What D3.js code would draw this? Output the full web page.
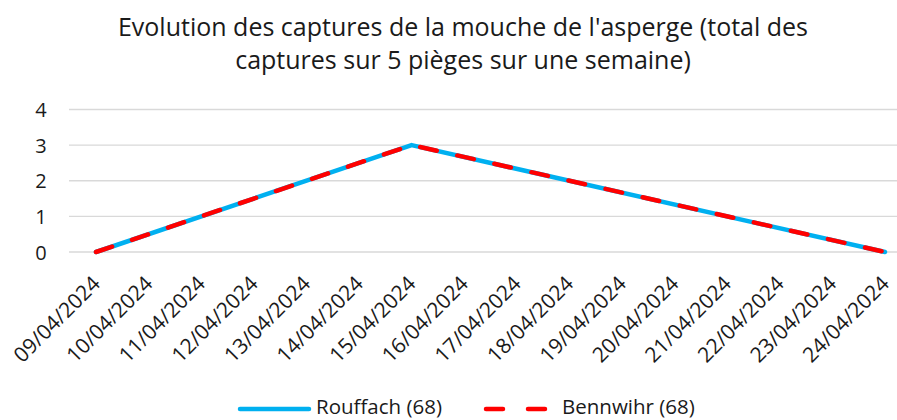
<!DOCTYPE html>
<html>
<head>
<meta charset="utf-8">
<script src="https://cdn.jsdelivr.net/npm/d3@7"></script>
<style>
  body { margin: 0; background: #fff; }
  text { font-family: "Open Sans", "Noto Sans", sans-serif; fill: #1a1a1a; }
</style>
</head>
<body>
<svg id="chart" width="897" height="420"></svg>
<script>
// categories (every day on the date axis)
var dates = ["09/04/2024","10/04/2024","11/04/2024","12/04/2024","13/04/2024","14/04/2024",
             "15/04/2024","16/04/2024","17/04/2024","18/04/2024","19/04/2024","20/04/2024",
             "21/04/2024","22/04/2024","23/04/2024","24/04/2024"];
// actual trap readings (line joins them straight)
var rouffachDates = ["09/04/2024","15/04/2024","24/04/2024"];
var rouffachValues = [0, 3, 0];
var bennwihrDates = ["09/04/2024","15/04/2024","24/04/2024"];
var bennwihrValues = [0, 3, 0];
var yTicks = [0, 1, 2, 3, 4];

var svg = d3.select("#chart");

var x = d3.scalePoint().domain(dates).range([96, 885]);
var y = d3.scaleLinear().domain([0, 4]).range([252, 109.5]);

// title
var title = svg.append("text")
	.attr("x", 463)
	.attr("y", 36)
	.attr("text-anchor", "middle")
	.style("font-size", "25px");
title.append("tspan").attr("x", 463).attr("dy", 0)
	.text("Evolution des captures de la mouche de l'asperge (total des");
title.append("tspan").attr("x", 463).attr("dy", 33)
	.text("captures sur 5 pièges sur une semaine)");

// gridlines
svg.append("g").selectAll("line")
	.data(yTicks)
	.enter().append("line")
	.attr("x1", 69).attr("x2", 897)
	.attr("y1", function(d){ return y(d); })
	.attr("y2", function(d){ return y(d); })
	.attr("stroke", "#d9d9d9")
	.attr("stroke-width", 1.3);

// y axis labels
var yAxis = d3.axisLeft(y).tickValues(yTicks).tickFormat(d3.format("d")).tickSize(0).tickPadding(0);
var gy = svg.append("g").attr("transform", "translate(41,0)").call(yAxis);
gy.select(".domain").remove();
gy.selectAll("text").style("font-size", "20px").attr("text-anchor", "middle").attr("dy", "0.35em");

// x axis labels, rotated
var xAxis = d3.axisBottom(x).tickSize(0).tickPadding(0);
var gx = svg.append("g").attr("transform", "translate(0,262)").call(xAxis);
gx.select(".domain").remove();
gx.selectAll("text")
	.style("font-size", "21px")
	.attr("text-anchor", "end")
	.attr("dy", "0.6em")
	.attr("y", 0)
	.attr("x", 0)
	.attr("transform", "translate(-4,14) rotate(-45)");

var line = d3.line()
	.x(function(d){ return x(d[0]); })
	.y(function(d){ return y(d[1]); });

var rouffach = d3.zip(rouffachDates, rouffachValues);
var bennwihr = d3.zip(bennwihrDates, bennwihrValues);

svg.append("path")
	.datum(rouffach)
	.attr("d", line)
	.attr("fill", "none")
	.attr("stroke", "#00b0f0")
	.attr("stroke-width", 4.5)
	.attr("stroke-linecap", "round")
	.attr("stroke-linejoin", "round");

svg.append("path")
	.datum(bennwihr)
	.attr("d", line)
	.attr("fill", "none")
	.attr("stroke", "#ff0000")
	.attr("stroke-width", 4.5)
	.attr("stroke-dasharray", "17,21")
	.attr("stroke-linecap", "round")
	.attr("stroke-linejoin", "round");

// legend
var leg = svg.append("g");
leg.append("line")
	.attr("x1", 240).attr("x2", 309).attr("y1", 409).attr("y2", 409)
	.attr("stroke", "#00b0f0").attr("stroke-width", 4.5).attr("stroke-linecap", "round");
leg.append("text").attr("x", 316).attr("y", 407).attr("dy", "0.35em")
	.style("font-size", "20.5px").text("Rouffach (68)");
leg.append("line")
	.attr("x1", 486).attr("x2", 549).attr("y1", 409).attr("y2", 409)
	.attr("stroke", "#ff0000").attr("stroke-width", 4.5).attr("stroke-linecap", "round")
	.attr("stroke-dasharray", "17,25");
leg.append("text").attr("x", 562).attr("y", 407).attr("dy", "0.35em")
	.style("font-size", "20.5px").text("Bennwihr (68)");
</script>
</body>
</html>
